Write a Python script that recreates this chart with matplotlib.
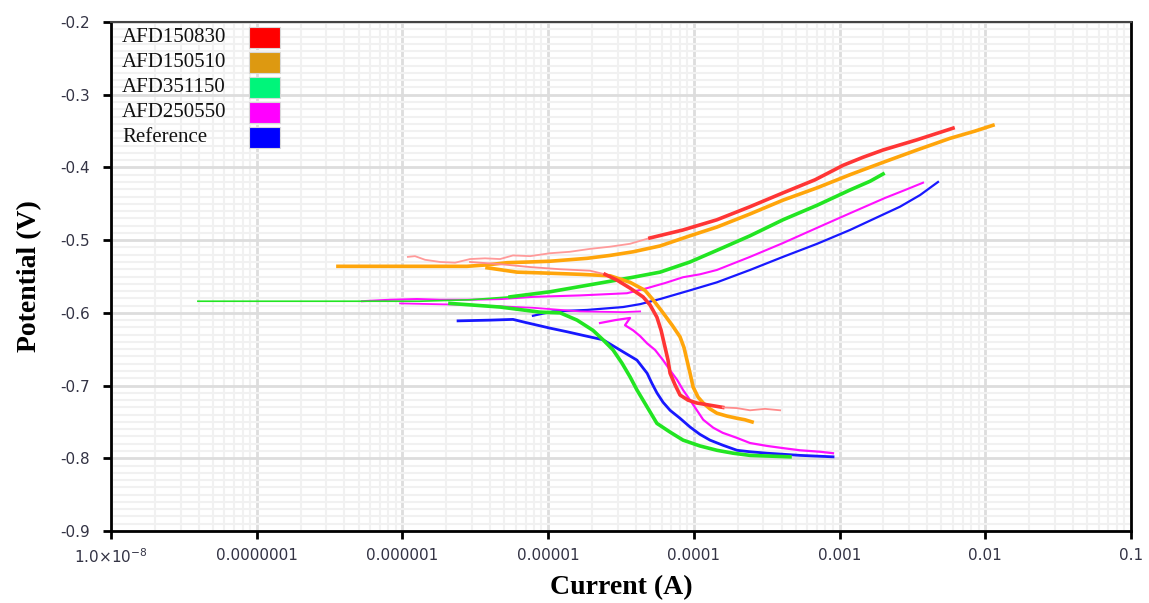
import matplotlib
matplotlib.use("Agg")
import numpy as np
import matplotlib.pyplot as plt
from matplotlib.patches import Rectangle
from matplotlib.ticker import FixedLocator, LogLocator, MultipleLocator, FuncFormatter, NullFormatter

# Polarisation curves: current (A) vs potential (V)

# AFD150830
red_pale_i = [1.09e-6, 1.22e-6, 1.43e-6, 1.81e-6, 2.30e-6, 2.91e-6, 3.69e-6, 4.68e-6,
              5.74e-6, 7.52e-6, 1.03e-5, 1.41e-5, 1.94e-5, 2.66e-5, 3.65e-5, 5.00e-5]
red_pale_e = [-0.523, -0.522, -0.527, -0.530, -0.531, -0.526, -0.525, -0.526,
              -0.521, -0.522, -0.518, -0.516, -0.512, -0.509, -0.505, -0.497]
red_anodic_i = [5.00e-5, 8.43e-5, 1.44e-4, 2.43e-4, 4.09e-4, 6.79e-4, 1.06e-3,
                1.45e-3, 1.99e-3, 2.60e-3, 3.40e-3, 4.52e-3, 6.01e-3]
red_anodic_e = [-0.497, -0.486, -0.472, -0.454, -0.435, -0.417, -0.397,
                -0.386, -0.376, -0.369, -0.362, -0.354, -0.346]
red_low_i = [2.91e-6, 4.68e-6, 7.52e-6, 1.21e-5, 1.94e-5, 2.46e-5]
red_low_e = [-0.530, -0.533, -0.537, -0.540, -0.542, -0.547]
red_cath_i = [2.46e-5, 2.97e-5, 3.65e-5, 4.48e-5, 5.00e-5, 5.58e-5, 5.96e-5, 6.34e-5,
              6.65e-5, 6.87e-5, 7.43e-5, 8.04e-5, 9.12e-5, 1.05e-4, 1.29e-4, 1.58e-4]
red_cath_e = [-0.547, -0.555, -0.566, -0.578, -0.589, -0.606, -0.624, -0.647,
              -0.665, -0.683, -0.699, -0.713, -0.720, -0.724, -0.727, -0.730]
red_tail_i = [1.58e-4, 1.98e-4, 2.43e-4, 3.08e-4, 3.91e-4]
red_tail_e = [-0.730, -0.731, -0.734, -0.732, -0.734]

# AFD150510
orange_anodic_i = [3.61e-7, 5.12e-7, 9.64e-7, 1.81e-6, 2.77e-6, 3.81e-6, 5.22e-6, 7.52e-6,
                   1.03e-5, 1.85e-5, 2.66e-5, 3.83e-5, 5.86e-5, 9.42e-5, 1.44e-4, 2.43e-4,
                   4.09e-4, 7.02e-4, 1.18e-3, 1.99e-3, 3.40e-3, 5.73e-3, 8.51e-3, 1.13e-2]
orange_anodic_e = [-0.536, -0.536, -0.536, -0.536, -0.536, -0.534, -0.531, -0.530,
                   -0.529, -0.525, -0.521, -0.516, -0.508, -0.494, -0.482, -0.464,
                   -0.445, -0.428, -0.410, -0.393, -0.376, -0.360, -0.350, -0.342]
orange_cath_i = [3.81e-6, 6.12e-6, 8.79e-6, 1.66e-5, 2.66e-5, 3.65e-5, 4.62e-5, 5.25e-5,
                 6.15e-5, 7.10e-5, 8.04e-5, 8.57e-5, 8.97e-5, 9.42e-5, 9.89e-5, 1.07e-4,
                 1.16e-4, 1.29e-4, 1.44e-4, 1.69e-4, 1.98e-4, 2.24e-4, 2.51e-4]
orange_cath_e = [-0.538, -0.544, -0.545, -0.547, -0.549, -0.558, -0.569, -0.582,
                 -0.600, -0.617, -0.633, -0.648, -0.665, -0.683, -0.702, -0.716,
                 -0.724, -0.732, -0.738, -0.742, -0.745, -0.747, -0.750]

# AFD351150
green_thin_i = [3.95e-8, 1.98e-7, 5.28e-7, 1.32e-6, 2.91e-6, 5.48e-6]
green_thin_e = [-0.584, -0.584, -0.584, -0.584, -0.582, -0.578]
green_anodic_i = [5.48e-6, 1.03e-5, 2.27e-5, 3.83e-5, 5.86e-5, 9.42e-5, 1.44e-4,
                  2.43e-4, 4.09e-4, 7.02e-4, 1.18e-3, 1.62e-3, 1.99e-3]
green_anodic_e = [-0.578, -0.571, -0.559, -0.551, -0.544, -0.530, -0.514,
                  -0.494, -0.472, -0.452, -0.431, -0.419, -0.409]
green_cath_i = [2.12e-6, 4.68e-6, 8.79e-6, 1.21e-5, 1.58e-5, 2.03e-5, 2.38e-5, 2.79e-5,
                3.21e-5, 3.65e-5, 4.07e-5, 4.48e-5, 5.00e-5, 5.58e-5, 6.87e-5, 8.43e-5,
                1.10e-4, 1.44e-4, 1.86e-4, 2.43e-4, 3.33e-4, 4.57e-4]
green_cath_e = [-0.587, -0.592, -0.599, -0.600, -0.610, -0.624, -0.637, -0.651,
                -0.669, -0.688, -0.706, -0.720, -0.736, -0.752, -0.764, -0.775,
                -0.783, -0.789, -0.793, -0.796, -0.797, -0.798]

# AFD250550
magenta_anodic_i = [5.28e-7, 8.22e-7, 1.26e-6, 1.81e-6, 2.77e-6, 4.68e-6, 7.87e-6,
                    1.66e-5, 3.48e-5, 4.78e-5, 6.34e-5, 8.43e-5, 1.10e-4, 1.44e-4,
                    2.43e-4, 4.09e-4, 7.02e-4, 1.18e-3, 2.05e-3, 2.82e-3, 3.74e-3]
magenta_anodic_e = [-0.584, -0.582, -0.581, -0.582, -0.582, -0.581, -0.578,
                    -0.576, -0.573, -0.566, -0.559, -0.551, -0.547, -0.541,
                    -0.523, -0.504, -0.483, -0.463, -0.442, -0.431, -0.421]
magenta_low_i = [9.64e-7, 2.77e-6, 7.87e-6, 1.66e-5, 3.27e-5, 4.28e-5]
magenta_low_e = [-0.587, -0.589, -0.593, -0.598, -0.599, -0.598]
magenta_cath_i = [2.27e-5, 2.88e-5, 3.65e-5, 3.37e-5, 3.83e-5, 4.28e-5, 4.78e-5, 5.42e-5,
                  6.15e-5, 6.87e-5, 7.67e-5, 8.43e-5, 9.42e-5, 1.05e-4, 1.16e-4, 1.36e-4,
                  1.58e-4, 1.98e-4, 2.43e-4, 3.18e-4, 4.09e-4, 5.36e-4, 7.34e-4, 9.02e-4]
magenta_cath_e = [-0.614, -0.610, -0.607, -0.617, -0.624, -0.632, -0.642, -0.651,
                  -0.665, -0.679, -0.692, -0.706, -0.720, -0.734, -0.747, -0.758,
                  -0.765, -0.772, -0.779, -0.783, -0.786, -0.789, -0.791, -0.793]

# Reference
blue_anodic_i = [7.87e-6, 1.08e-5, 1.85e-5, 3.27e-5, 4.28e-5, 5.86e-5, 9.42e-5, 1.44e-4,
                 2.43e-4, 4.09e-4, 7.02e-4, 1.18e-3, 1.75e-3, 2.60e-3, 3.57e-3, 4.74e-3]
blue_anodic_e = [-0.604, -0.598, -0.596, -0.592, -0.588, -0.581, -0.569, -0.558,
                 -0.541, -0.523, -0.505, -0.486, -0.470, -0.454, -0.438, -0.420]
blue_cath_i = [2.41e-6, 3.99e-6, 5.74e-6, 6.93e-6, 1.03e-5, 1.35e-5, 1.74e-5, 2.38e-5,
               3.11e-5, 4.07e-5, 4.78e-5, 5.16e-5, 5.58e-5, 6.15e-5, 6.87e-5, 8.04e-5,
               9.42e-5, 1.10e-4, 1.29e-4, 1.58e-4, 1.98e-4, 2.43e-4, 3.18e-4, 5.36e-4, 9.02e-4]
blue_cath_e = [-0.611, -0.610, -0.609, -0.613, -0.621, -0.626, -0.631, -0.637,
               -0.651, -0.665, -0.683, -0.697, -0.710, -0.723, -0.734, -0.745,
               -0.757, -0.767, -0.775, -0.782, -0.789, -0.791, -0.793, -0.796, -0.798]

current_ticks = [1e-8, 1e-7, 1e-6, 1e-5, 1e-4, 1e-3, 1e-2, 1e-1]

legend_labels = ["AFD150830", "AFD150510", "AFD351150", "AFD250550", "Reference"]
legend_colors = ["#ff0000", "#dd9911", "#00f57a", "#ff00ff", "#0000ff"]

RED, ORANGE, GREEN, MAGENTA, BLUE = "#ff3535", "#ffa50a", "#22e522", "#ff10ff", "#1818ff"

fig = plt.figure(figsize=(11.49, 6.03), dpi=100)
ax = fig.add_axes([0.0966, 0.1194, 0.8877, 0.8441])

ax.plot(blue_anodic_i, blue_anodic_e, color=BLUE, lw=1.6)
ax.plot(blue_cath_i, blue_cath_e, color=BLUE, lw=2.0)
ax.plot(magenta_low_i, magenta_low_e, color=MAGENTA, lw=1.3)
ax.plot(magenta_anodic_i, magenta_anodic_e, color=MAGENTA, lw=1.5)
ax.plot(magenta_cath_i, magenta_cath_e, color=MAGENTA, lw=1.6)
ax.plot(green_thin_i, green_thin_e, color=GREEN, lw=1.2)
ax.plot(green_anodic_i, green_anodic_e, color=GREEN, lw=2.6)
ax.plot(green_cath_i, green_cath_e, color=GREEN, lw=2.6)
ax.plot(orange_anodic_i, orange_anodic_e, color=ORANGE, lw=2.6)
ax.plot(orange_cath_i, orange_cath_e, color=ORANGE, lw=2.6)
ax.plot(red_pale_i, red_pale_e, color="#ff9a9a", lw=1.3)
ax.plot(red_low_i, red_low_e, color="#ff8c8c", lw=1.3)
ax.plot(red_anodic_i, red_anodic_e, color=RED, lw=2.6)
ax.plot(red_cath_i, red_cath_e, color=RED, lw=2.6)
ax.plot(red_tail_i, red_tail_e, color="#ff8c8c", lw=1.3)

ax.set_xscale("log")
ax.set_xlim(current_ticks[0], current_ticks[-1])
ax.set_ylim(-0.9, -0.2)


def current_label(v, pos):
    if v < 1.5e-8:
        return r"$\mathregular{1.0{\times}10^{-8}}$"
    n = max(int(round(-np.log10(v))), 0)
    return f"{v:.{n}f}"


ax.xaxis.set_major_locator(FixedLocator(current_ticks))
ax.xaxis.set_minor_locator(LogLocator(base=10, subs=np.arange(2, 10), numticks=12))
ax.xaxis.set_major_formatter(FuncFormatter(current_label))
ax.xaxis.set_minor_formatter(NullFormatter())
ax.yaxis.set_major_locator(MultipleLocator(0.1))
ax.yaxis.set_minor_locator(MultipleLocator(0.01))
ax.yaxis.set_major_formatter(FuncFormatter(lambda v, p: f"{v:.1f}"))

ax.set_axisbelow(True)
ax.grid(which="major", color="#dddddd", lw=2.0)
ax.grid(which="minor", color="#f1f1f1", lw=1.5)

ax.tick_params(which="major", direction="out", length=6, width=2, color="black",
               labelsize=11, labelcolor="#333344")
ax.tick_params(axis="y", pad=9)
ax.tick_params(axis="x", pad=6)
ax.tick_params(which="minor", length=0)

for side in ("left", "bottom", "right"):
    ax.spines[side].set_linewidth(2)
    ax.spines[side].set_color("black")
ax.spines["top"].set_linewidth(1.5)
ax.spines["top"].set_color("#444444")

serif = ["Liberation Serif", "DejaVu Serif"]
ax.set_xlabel("Current (A)", family=serif, fontweight="bold", fontsize=20, labelpad=6)
ax.set_ylabel("Potential (V)", family=serif, fontweight="bold", fontsize=20, labelpad=13)

# hand-placed key: names left-aligned, colour swatches in a column to the right
row_top, row_step = 0.9686, 0.0487
for k, (lab, col) in enumerate(zip(legend_labels, legend_colors)):
    yc = row_top - k * row_step
    ax.text(0.0108, yc, lab, transform=ax.transAxes, ha="left", va="center",
            family=serif, fontsize=15, color="#111111")
    ax.add_patch(Rectangle((0.1353, yc - 0.0206), 0.0304, 0.0413, transform=ax.transAxes,
                           facecolor=col, edgecolor="#d8d8d8", lw=0.8, zorder=5))

fig.savefig("out.png", dpi=100)
